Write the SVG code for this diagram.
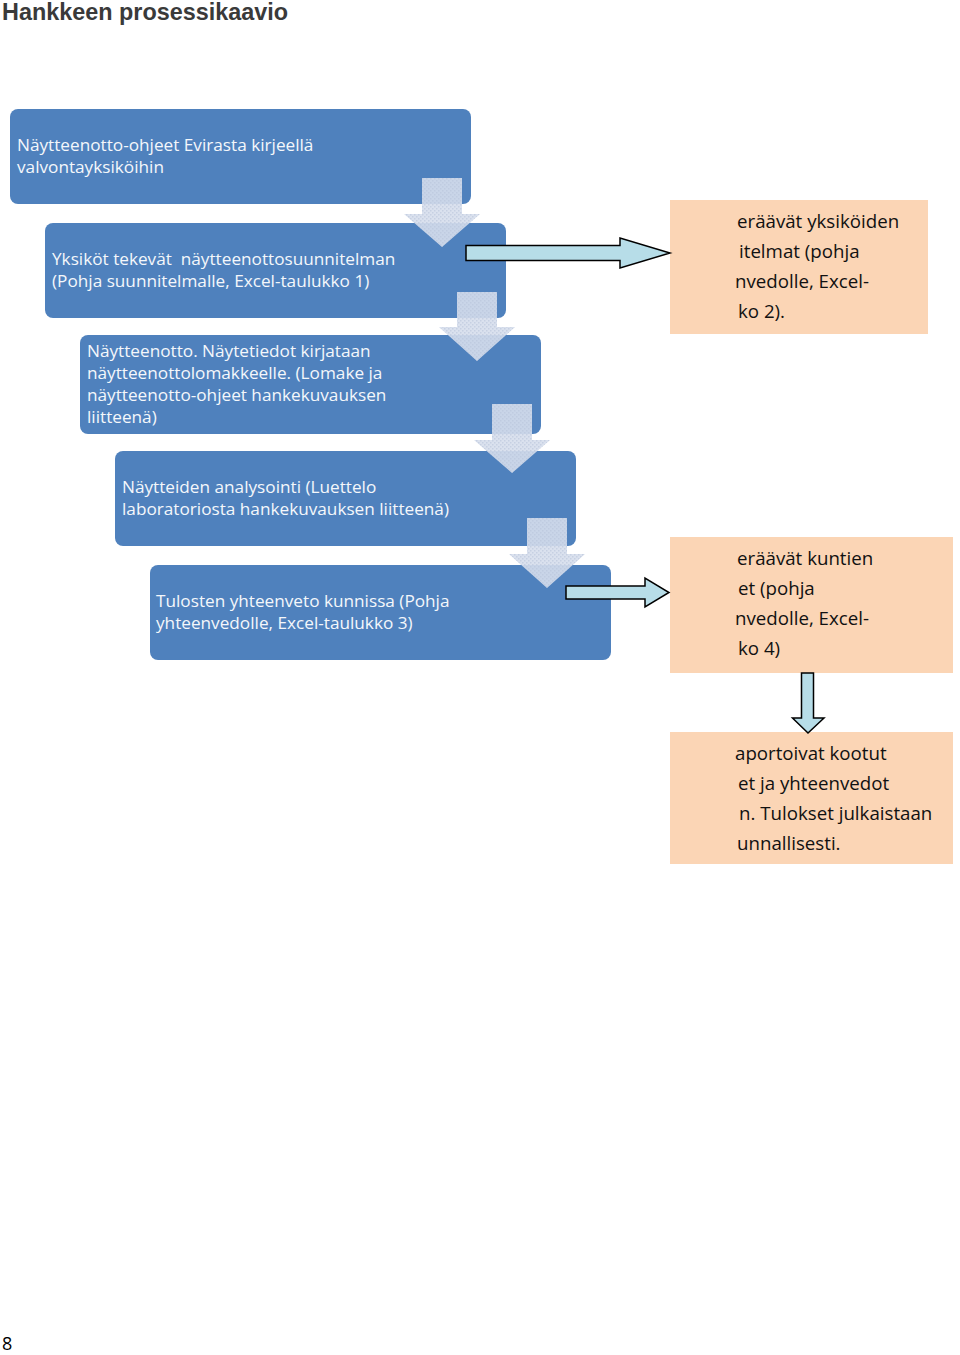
<svg xmlns="http://www.w3.org/2000/svg" width="960" height="1355" viewBox="0 0 960 1355">
<style>
.blue{fill:#4F81BD}
.orange{fill:#FBD5B5}
.bt{font-family:"Open Sans","Noto Sans",sans-serif;font-size:17.2px;fill:#F4F7FB}
.ot{font-family:"Open Sans","Noto Sans",sans-serif;font-size:18.7px;fill:#111}
.down{fill:#D6DEEC;fill-opacity:0.9}
.tex{fill:url(#dots)}
.rarrow{fill:#B7DDE8;stroke:#000;stroke-width:1.5;stroke-linejoin:miter}
</style>
<defs>
<pattern id="dots" width="4" height="4" patternUnits="userSpaceOnUse">
<rect x="0" y="0" width="1.5" height="1.5" fill="#B9C4DA" fill-opacity="0.6"/>
<rect x="2" y="2" width="1.5" height="1.5" fill="#B9C4DA" fill-opacity="0.6"/>
</pattern>
<clipPath id="c1"><rect x="733" y="200" width="195" height="134"/></clipPath>
<clipPath id="c2"><rect x="733" y="537" width="220" height="136"/></clipPath>
<clipPath id="c3"><rect x="733" y="732" width="220" height="132"/></clipPath>
</defs>
<rect width="960" height="1355" fill="#fff"/>
<text x="2" y="20" font-family="Liberation Sans,Arial,sans-serif" font-weight="bold" font-size="23.4" fill="#3A3A3A">Hankkeen prosessikaavio</text>

<g id="n1">
<rect class="blue" x="10" y="109" width="461" height="95" rx="8"/>
<text class="bt" x="17" y="151">Näytteenotto-ohjeet Evirasta kirjeellä</text>
<text class="bt" x="17" y="173">valvontayksiköihin</text>
</g>
<g id="n2">
<rect class="blue" x="45" y="223" width="461" height="95" rx="8"/>
<text class="bt" x="52" y="265" xml:space="preserve">Yksiköt tekevät  näytteenottosuunnitelman</text>
<text class="bt" x="52" y="287">(Pohja suunnitelmalle, Excel-taulukko 1)</text>
</g>
<g id="n3">
<rect class="blue" x="80" y="335" width="461" height="99" rx="8"/>
<text class="bt" x="87" y="357">Näytteenotto. Näytetiedot kirjataan</text>
<text class="bt" x="87" y="379">näytteenottolomakkeelle. (Lomake ja</text>
<text class="bt" x="87" y="401">näytteenotto-ohjeet hankekuvauksen</text>
<text class="bt" x="87" y="423">liitteenä)</text>
</g>
<g id="n4">
<rect class="blue" x="115" y="451" width="461" height="95" rx="8"/>
<text class="bt" x="122" y="493">Näytteiden analysointi (Luettelo</text>
<text class="bt" x="122" y="515">laboratoriosta hankekuvauksen liitteenä)</text>
</g>
<g id="n5">
<rect class="blue" x="150" y="565" width="461" height="95" rx="8"/>
<text class="bt" x="156" y="607">Tulosten yhteenveto kunnissa (Pohja</text>
<text class="bt" x="156" y="629">yhteenvedolle, Excel-taulukko 3)</text>
</g>

<g id="n6">
<rect class="orange" x="670" y="200" width="258" height="134"/>
<g clip-path="url(#c1)">
<text class="ot" x="737" y="228">eräävät yksiköiden</text>
<text class="ot" x="739" y="258">itelmat (pohja</text>
<text class="ot" x="735" y="288">nvedolle, Excel-</text>
<text class="ot" x="738" y="318">ko 2).</text>
</g>
</g>
<g id="n7">
<rect class="orange" x="670" y="537" width="283" height="136"/>
<g clip-path="url(#c2)">
<text class="ot" x="737" y="565">eräävät kuntien</text>
<text class="ot" x="738" y="595">et (pohja</text>
<text class="ot" x="735" y="625">nvedolle, Excel-</text>
<text class="ot" x="738" y="655">ko 4)</text>
</g>
</g>
<g id="n8">
<rect class="orange" x="670" y="732" width="283" height="132"/>
<g clip-path="url(#c3)">
<text class="ot" x="735" y="760">aportoivat kootut</text>
<text class="ot" x="738" y="790">et ja yhteenvedot</text>
<text class="ot" x="739" y="820">n. Tulokset julkaistaan</text>
<text class="ot" x="737" y="850">unnallisesti.</text>
</g>
</g>

<g id="connectors">
<g id="d1">
<path class="down" d="M422,178 H462 V214 H480 L442,247 L404,214 H422 Z"/>
<path class="tex" d="M422,178 H462 V214 H480 L442,247 L404,214 H422 Z"/>
</g>
<g id="d2">
<path class="down" d="M457,292 H497 V327 H515 L477,361 L439,327 H457 Z"/>
<path class="tex" d="M457,292 H497 V327 H515 L477,361 L439,327 H457 Z"/>
</g>
<g id="d3">
<path class="down" d="M492,404 H532 V440 H550 L512,473 L474,440 H492 Z"/>
<path class="tex" d="M492,404 H532 V440 H550 L512,473 L474,440 H492 Z"/>
</g>
<g id="d4">
<path class="down" d="M527,518 H567 V554 H585 L547,588 L509,554 H527 Z"/>
<path class="tex" d="M527,518 H567 V554 H585 L547,588 L509,554 H527 Z"/>
</g>
<path class="rarrow" d="M466,245.5 H620 V238 L670,253 L620,268 V260.5 H466 Z"/>
<path class="rarrow" d="M566,586 H645 V578 L669,592.5 L645,607 V599 H566 Z"/>
<path class="rarrow" d="M801.5,673 H813.5 V718 H824 L808,733 L792.5,718 H801.5 Z"/>
</g>

<text x="2" y="1350" font-family="Open Sans,Noto Sans,sans-serif" font-size="18" fill="#000">8</text>
</svg>
